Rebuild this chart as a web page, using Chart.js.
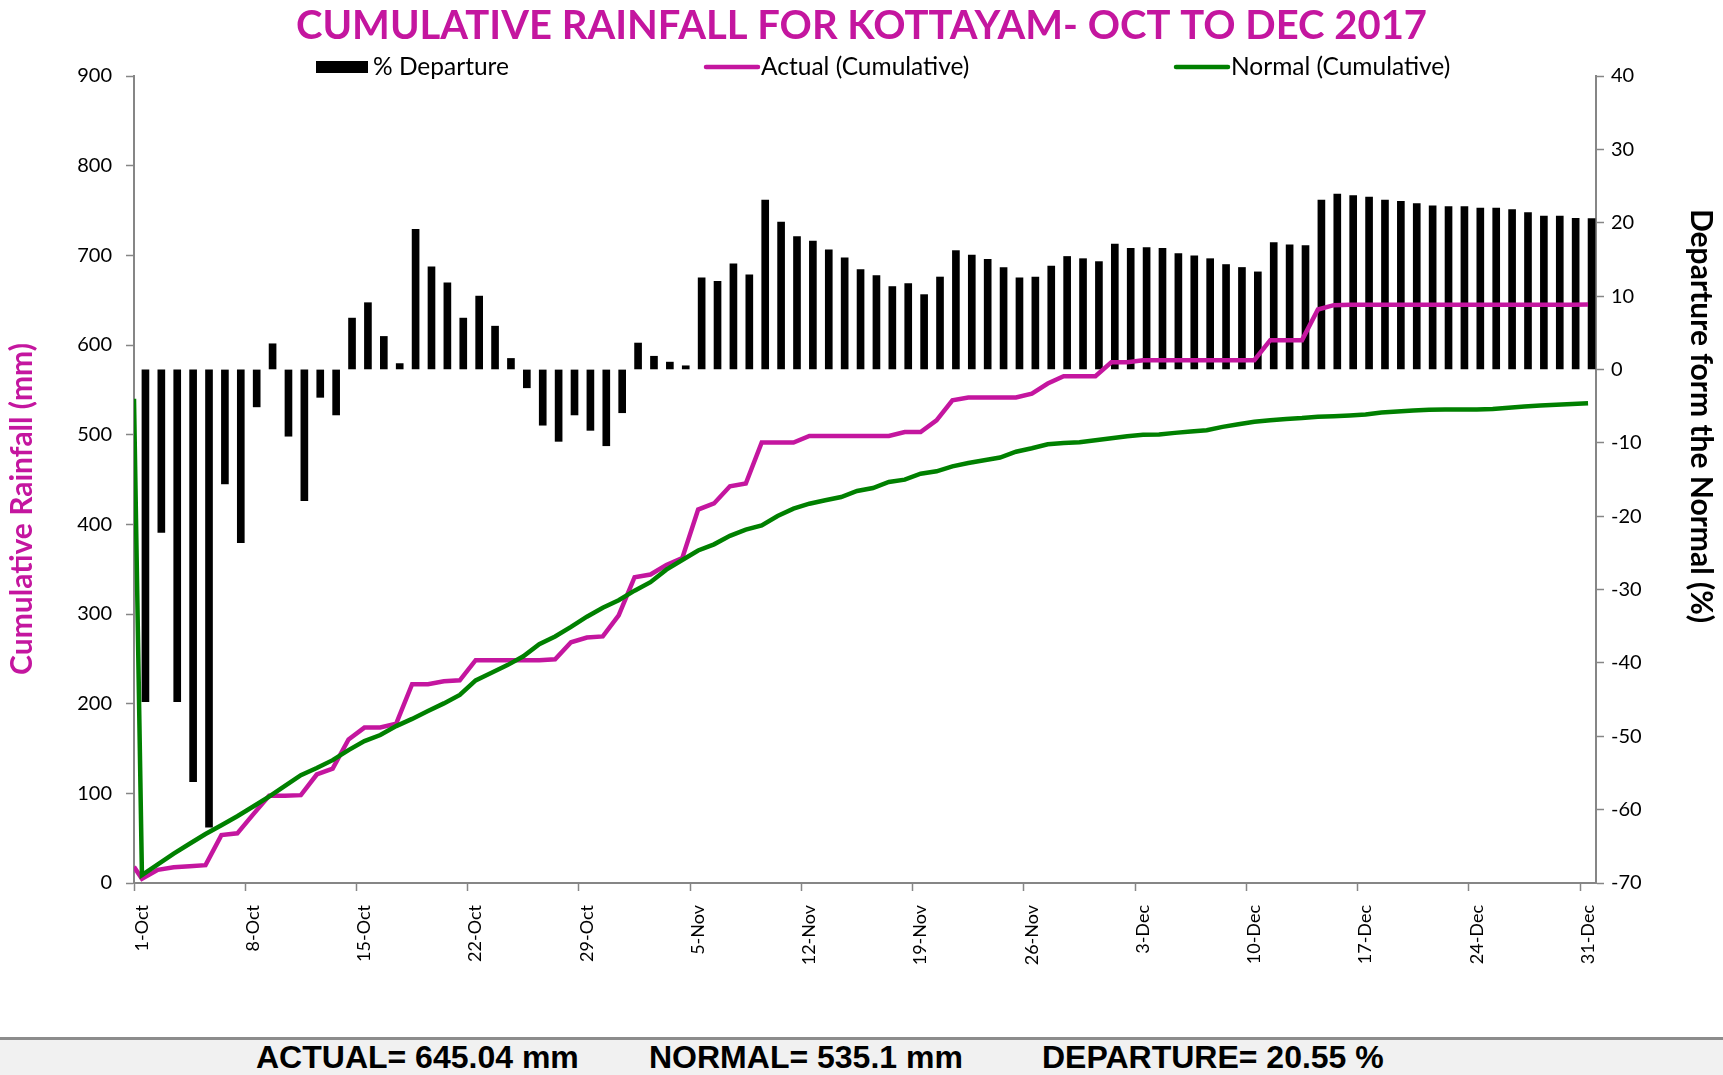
<!DOCTYPE html>
<html>
<head>
<meta charset="utf-8">
<script src="https://cdn.jsdelivr.net/npm/chart.js@4.4.1/dist/chart.umd.min.js"></script>
<style>
html, body { margin: 0; padding: 0; background: #fff; }
#wrap { position: relative; width: 1723px; height: 1037px; }
#foot { position: relative; width: 1723px; height: 35px; border-top: 3px solid #8c8c8c; background: #f1f1f1;
        font: bold 32px "Liberation Sans", Arial, sans-serif; color: #000; }
#foot span { position: absolute; top: 0; line-height: 35px; white-space: pre; }
</style>
</head>
<body>
<div id="wrap"><canvas id="myChart"></canvas></div>
<div id="foot"><span style="left:256px">ACTUAL= 645.04 mm</span><span style="left:649px">NORMAL= 535.1 mm</span><span style="left:1042px">DEPARTURE= 20.55 %</span></div>
<script>
var MAGENTA = '#C4169F';
var GREEN = '#008000';
var AXIS = '#868686';

// categories: one label per day, 1-Oct .. 31-Dec
var months = ['Oct', 'Nov', 'Dec'];
var monthDays = [31, 30, 31];
var dayLabels = [];
months.forEach(function (m, k) {
    for (var d = 1; d <= monthDays[k]; d++) dayLabels.push(d + '-' + m);
});

// % departure from normal (right axis)
var departure = [
    -45.3, -22.2, -45.3, -56.2, -62.4, -15.6, -23.6, -5.1, 3.5, -9.1,
    -17.9, -3.8, -6.2, 7.0, 9.1, 4.5, 0.8, 19.1, 14.0, 11.8,
    7.0, 10.0, 5.9, 1.5, -2.5, -7.6, -9.8, -6.2, -8.3, -10.4,
    -5.9, 3.6, 1.8, 1.0, 0.5, 12.5, 12.0, 14.4, 12.9, 23.1,
    20.1, 18.1, 17.5, 16.3, 15.2, 13.6, 12.8, 11.3, 11.7, 10.2,
    12.6, 16.2, 15.6, 15.0, 13.9, 12.5, 12.6, 14.1, 15.4, 15.1,
    14.7, 17.1, 16.5, 16.6, 16.5, 15.8, 15.5, 15.1, 14.3, 13.9,
    13.3, 17.3, 17.0, 16.9, 23.1, 23.9, 23.7, 23.5, 23.1, 22.9,
    22.6, 22.3, 22.2, 22.2, 22.0, 22.0, 21.8, 21.4, 20.9, 20.9,
    20.6, 20.55
];

// cumulative rainfall, mm (left axis)
var actual = [
    4.8, 14.7, 17.5, 18.7, 19.9, 53.4, 55.4, 76.5, 97.2, 97.2,
    98.0, 121, 127.5, 160, 173.3, 173.5, 177.7, 221.7, 221.7, 225,
    226, 248.5, 248.5, 248.5, 248.5, 248.5, 249.4, 268.5, 273.7, 275,
    298.4, 341, 344, 354.6, 362.3, 416.5, 423.3, 442.5, 445.5, 491.2,
    491.2, 491.2, 498.6, 498.6, 498.6, 498.6, 498.6, 498.6, 503, 503,
    516, 538.4, 541.4, 541.4, 541.4, 541.4, 545.8, 557, 565.2, 565.2,
    565.2, 580.8, 580.8, 583, 583, 583, 583, 583, 583, 583,
    583, 605.4, 605.4, 605.4, 639.6, 644.4, 645, 645, 645, 645,
    645, 645, 645, 645, 645, 645, 645, 645, 645, 645,
    645, 645.04
];
var normal = [
    8.8, 20.7, 32.7, 43.8, 54.6, 64.5, 74.5, 85.3, 96.4, 108.4,
    120.3, 128.3, 137, 148.2, 158.2, 165, 175, 183, 191.8, 200.3,
    209.7, 226, 234.4, 243, 252.8, 266.4, 275, 285.6, 297, 307,
    315.4, 326, 335.5, 349.5, 360.2, 370.8, 377.7, 387.2, 394.1, 398.9,
    409.3, 417.5, 423, 426.8, 430.5, 437.2, 440.5, 447.2, 449.8, 456.5,
    459.1, 464.7, 468.4, 471.4, 474.5, 481, 484.8, 489.3, 490.8, 491.5,
    493.8, 496, 498.3, 499.8, 500.1, 502, 503.5, 505, 508.7, 511.7,
    514.3, 516.1, 517.6, 518.5, 519.9, 520.6, 521.4, 522.5, 524.7, 525.9,
    527, 527.8, 528.1, 528.1, 528.1, 528.5, 530, 531.5, 532.5, 533.3,
    534.2, 535.1
];

// both line series carry one extra leading value, plotted at the left edge
var actualLead = 18;
var normalLead = 540;

function toPoints(lead, vals) {
    var pts = [{ x: -0.5, y: lead }];
    vals.forEach(function (v, i) { pts.push({ x: i, y: v }); });
    return pts;
}

Chart.defaults.font.family = 'Lato';
Chart.defaults.color = '#000';

// legend row and the two axis titles, placed like the original sheet
var legendSpots = [
    { ds: 2, x: 316 },
    { ds: 1, x: 704 },
    { ds: 0, x: 1174 }
];
var overlay = {
    id: 'overlay',
    afterDraw: function (chart) {
        var c = chart.ctx;
        var ly = 67;
        c.save();
        c.textBaseline = 'middle';
        c.textAlign = 'left';
        c.font = '24.5px Lato';
        legendSpots.forEach(function (s) {
            var ds = chart.data.datasets[s.ds];
            if (ds.type === 'line') {
                c.strokeStyle = ds.borderColor;
                c.lineWidth = 4.5;
                c.lineCap = 'round';
                c.beginPath();
                c.moveTo(s.x + 2, ly);
                c.lineTo(s.x + 54, ly);
                c.stroke();
            } else {
                c.fillStyle = ds.backgroundColor;
                c.fillRect(s.x, ly - 6, 52, 12);
            }
            c.fillStyle = '#000';
            c.fillText(ds.label, s.x + 57, ly);
        });

        c.font = 'bold 30px Lato';
        c.textAlign = 'center';
        c.fillStyle = MAGENTA;
        c.translate(22, 509);
        c.rotate(-Math.PI / 2);
        c.fillText('Cumulative Rainfall (mm)', 0, 0);
        c.restore();

        c.save();
        c.font = 'bold 30px Lato';
        c.textAlign = 'center';
        c.textBaseline = 'middle';
        c.fillStyle = '#000';
        c.translate(1701, 416);
        c.rotate(Math.PI / 2);
        c.fillText('Departure form the Normal (%)', 0, 0);
        c.restore();
    }
};

var ctx = document.getElementById('myChart').getContext('2d');
var myChart = new Chart(ctx, {
    type: 'bar',
    data: {
        labels: dayLabels,
        datasets: [{
            type: 'line',
            label: 'Normal (Cumulative)',
            data: toPoints(normalLead, normal),
            xAxisID: 'xl',
            yAxisID: 'y',
            borderColor: GREEN,
            borderWidth: 4.5,
            pointRadius: 0,
            tension: 0,
            order: 1
        }, {
            type: 'line',
            label: 'Actual (Cumulative)',
            data: toPoints(actualLead, actual),
            xAxisID: 'xl',
            yAxisID: 'y',
            borderColor: MAGENTA,
            borderWidth: 4.5,
            pointRadius: 0,
            tension: 0,
            order: 2
        }, {
            type: 'bar',
            label: '% Departure',
            data: departure,
            xAxisID: 'x',
            yAxisID: 'y2',
            backgroundColor: '#000',
            barThickness: 7,
            order: 3
        }]
    },
    options: {
        responsive: true,
        maintainAspectRatio: false,
        animation: false,
        layout: { padding: 0 },
        plugins: {
            legend: { display: false },
            tooltip: { enabled: false },
            title: {
                display: true,
                text: 'CUMULATIVE RAINFALL FOR KOTTAYAM- OCT TO DEC 2017',
                color: MAGENTA,
                font: { family: 'Lato', size: 40, weight: 'bold' },
                padding: { top: 2, bottom: 26 }
            }
        },
        scales: {
            x: {
                type: 'category',
                offset: true,
                grid: {
                    offset: true,
                    drawOnChartArea: false,
                    tickLength: 8,
                    tickWidth: 1.5,
                    tickColor: function (c) { return c.index % 7 === 0 ? AXIS : 'rgba(0,0,0,0)'; }
                },
                border: { color: AXIS, width: 2 },
                ticks: {
                    autoSkip: false,
                    minRotation: 90,
                    maxRotation: 90,
                    padding: 14,
                    font: { size: 18 },
                    callback: function (v, i) { return i % 7 === 0 ? dayLabels[i] : ''; }
                },
                afterFit: function (s) { s.height = 154; }
            },
            xl: { type: 'linear', display: false, offset: false, min: -0.5, max: 91.5 },
            y: {
                position: 'left',
                min: 0,
                max: 900,
                ticks: { stepSize: 100, padding: 14, font: { size: 20 } },
                grid: { drawOnChartArea: false, tickLength: 8, tickWidth: 1.5, tickColor: AXIS },
                border: { color: AXIS, width: 2 },
                afterFit: function (s) { s.width = 134; }
            },
            y2: {
                position: 'right',
                min: -70,
                max: 40,
                ticks: { stepSize: 10, padding: 7, font: { size: 20 } },
                grid: { drawOnChartArea: false, tickLength: 8, tickWidth: 1.5, tickColor: AXIS },
                border: { color: AXIS, width: 2 },
                afterFit: function (s) { s.width = 127; }
            }
        }
    },
    plugins: [overlay]
});
</script>
</body>
</html>
